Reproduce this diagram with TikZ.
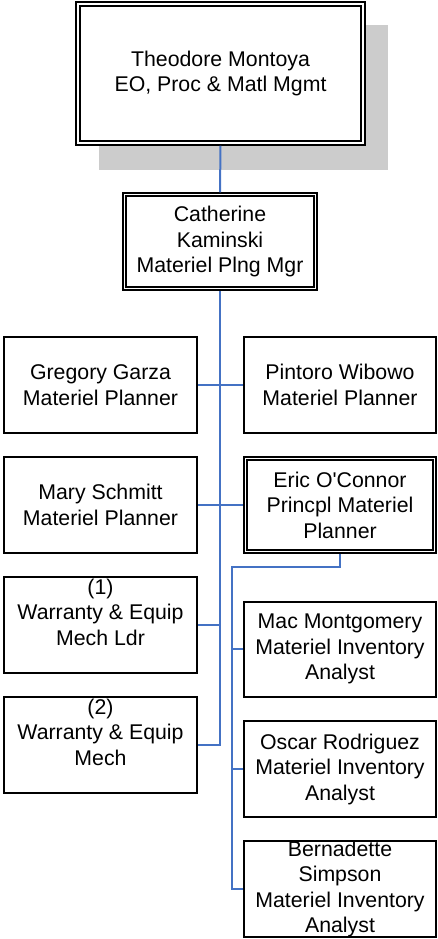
\documentclass[tikz,border=0pt]{standalone}
\usepackage{fontspec}
\setmainfont{Liberation Sans}
\definecolor{connblue}{HTML}{4472C4}
\definecolor{shadowgray}{HTML}{CCCCCC}
\begin{document}
\begin{tikzpicture}[x=1pt,y=-1pt,
  box/.style={draw=black,line width=2pt,fill=white,inner sep=0pt,align=center,
    font=\fontsize{21.3}{25.5}\selectfont},
  lbox/.style={box,minimum width=193pt,minimum height=96pt},
  rbox/.style={box,minimum width=192pt,minimum height=96pt},
  conn/.style={draw=connblue,line width=2pt},
  innerframe/.style={draw=black,line width=2pt}]
\useasboundingbox (0,0) rectangle (437,939);
% shadow of top box
\fill[shadowgray] (99,25) rectangle (388,170);
% nodes
\node[box,minimum width=289pt,minimum height=143pt,line width=1.5pt] (top) at (220.5,73.5) {Theodore Montoya\\EO, Proc \& Matl Mgmt};
\draw[innerframe] ([shift={(5,5)}]top.north west) rectangle ([shift={(-5,-5)}]top.south east);
\node[box,minimum width=194pt,minimum height=97pt,line width=1.5pt] (cat) at (220,241.5) {Catherine\\Kaminski\\Materiel Plng Mgr};
\draw[innerframe] ([shift={(4,4)}]cat.north west) rectangle ([shift={(-4,-4)}]cat.south east);
\node[lbox] (greg) at (100.5,385) {Gregory Garza\\Materiel Planner};
\node[rbox] (pint) at (340,385) {Pintoro Wibowo\\Materiel Planner};
\node[lbox] (mary) at (100.5,505) {Mary Schmitt\\Materiel Planner};
\node[rbox,line width=1.5pt] (eric) at (340,505) {Eric O\textquotesingle Connor\\Princpl Materiel\\Planner};
\draw[innerframe] ([shift={(4,4)}]eric.north west) rectangle ([shift={(-4,-4)}]eric.south east);
\node[lbox] (war1) at (100.5,625) {(1)\\Warranty \& Equip\\Mech Ldr\\\mbox{}};
\node[lbox] (war2) at (100.5,745) {(2)\\Warranty \& Equip\\Mech\\\mbox{}};
\node[rbox,minimum height=95pt] (mac) at (340,649) {Mac Montgomery\\Materiel Inventory\\Analyst};
\node[rbox] (osc) at (340,769) {Oscar Rodriguez\\Materiel Inventory\\Analyst};
\node[rbox] (ber) at (340,889) {Bernadette\\Simpson\\Materiel Inventory\\Analyst};
% coordinates
\coordinate (trunkend) at (220,745);
\coordinate (ericdown) at (340,567);
\coordinate (ericturn) at (232,567);
\coordinate (ericend) at (232,889);
% connectors
\draw[conn] (top.south) -- (cat.north);
\draw[conn] (cat.south) -- (trunkend) -- (war2.east);
\draw[conn] (greg.east) -- (pint.west);
\draw[conn] (mary.east) -- (eric.west);
\draw[conn] (war1.east) -- (war1.east -| trunkend);
\draw[conn] (eric.south -| ericdown) -- (ericdown) -- (ericturn) -- (ericend) -- (ber.west);
\draw[conn] (mac.west) -- (mac.west -| ericturn);
\draw[conn] (osc.west) -- (osc.west -| ericturn);
\end{tikzpicture}
\end{document}
